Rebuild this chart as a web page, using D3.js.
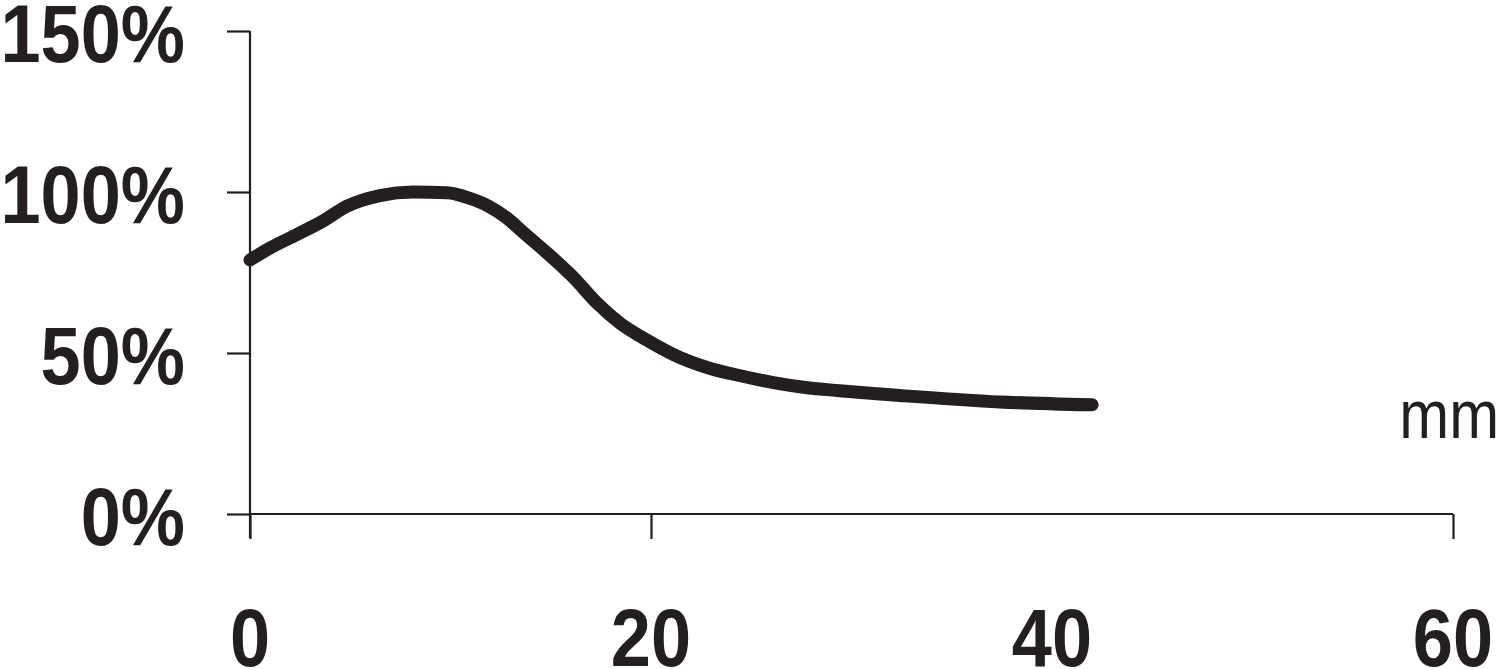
<!DOCTYPE html>
<html>
<head>
<meta charset="utf-8">
<script src="https://cdn.jsdelivr.net/npm/d3@7"></script>
<style>
  html, body { margin: 0; padding: 0; background: #fff; }
  svg { display: block; }
</style>
</head>
<body>
<svg id="chart" width="1500" height="669"></svg>
<script>
// ---- data ----
const distanceMm = [0, 1.0, 2.34, 3.64, 4.84, 6.48, 8.13, 9.83, 10.97, 11.9, 12.8, 13.6, 14.81, 16.11, 17.31, 18.45, 19.8, 21.1, 22.8, 24.4, 26.1, 27.8, 29.4, 31.1, 32.4, 37.4, 42.0];
const percentValues = [78.9, 82.6, 86.8, 91.0, 95.6, 98.9, 100.0, 99.8, 98.0, 95.6, 92.0, 87.6, 81.1, 73.6, 65.5, 59.3, 54.0, 49.6, 45.5, 43.0, 40.8, 39.2, 38.3, 37.4, 36.8, 34.8, 33.9];
const yTickValues = [0, 50, 100, 150];
const xTickValues = [0, 20, 40, 60];
const xUnitLabel = "mm";

const ink = "#231f20";
const svg = d3.select("#chart");

const x = d3.scaleLinear().domain([0, 60]).range([250, 1453]);
const y = d3.scaleLinear().domain([0, 150]).range([514, 31]);

const points = distanceMm.map((d, i) => ({ mm: d, v: percentValues[i] }));

// axis lines
svg.append("line")
  .attr("x1", x(0)).attr("x2", x(0))
  .attr("y1", y(150)).attr("y2", y(0) + 24)
  .attr("stroke", ink).attr("stroke-width", 2.2);
svg.append("line")
  .attr("x1", x(0)).attr("x2", x(60))
  .attr("y1", y(0)).attr("y2", y(0))
  .attr("stroke", ink).attr("stroke-width", 2.2);

// y axis ticks
const yAxis = d3.axisLeft(y).tickValues(yTickValues).tickSize(23).tickSizeOuter(0).tickFormat(() => "");
const gy = svg.append("g").attr("transform", `translate(${x(0)},0)`).call(yAxis);
gy.select(".domain").remove();
gy.selectAll(".tick line").attr("stroke", ink).attr("stroke-width", 2.2);

// x axis ticks
const xAxis = d3.axisBottom(x).tickValues(xTickValues).tickSize(25).tickSizeOuter(0).tickFormat(() => "");
const gx = svg.append("g").attr("transform", `translate(0,${y(0)})`).call(xAxis);
gx.select(".domain").remove();
gx.selectAll(".tick line").attr("stroke", ink).attr("stroke-width", 2.2)
  .attr("opacity", d => d === 40 ? 0 : 1);

// y tick labels
svg.append("g").selectAll("text")
  .data(yTickValues)
  .join("text")
  .attr("transform", d => `translate(185,${y(d) + 31}) scale(0.88,1)`)
  .attr("text-anchor", "end")
  .attr("font-family", "'Liberation Sans', Arial, sans-serif")
  .attr("font-weight", "bold")
  .attr("font-size", 82)
  .attr("fill", ink)
  .text(d => d + "%");

// x tick labels
svg.append("g").selectAll("text")
  .data(xTickValues)
  .join("text")
  .attr("transform", d => `translate(${x(d)},666) scale(0.88,1)`)
  .attr("text-anchor", "middle")
  .attr("font-family", "'Liberation Sans', Arial, sans-serif")
  .attr("font-weight", "bold")
  .attr("font-size", 82)
  .attr("fill", ink)
  .text(d => d);

// unit label
svg.append("text")
  .attr("transform", "translate(1499,438) scale(0.88,1)")
  .attr("text-anchor", "end")
  .attr("font-family", "'Liberation Sans', Arial, sans-serif")
  .attr("font-size", 68)
  .attr("fill", ink)
  .text(xUnitLabel);

// curve
const line = d3.line()
  .x(d => x(d.mm))
  .y(d => y(d.v))
  .curve(d3.curveMonotoneX);

svg.append("path")
  .datum(points)
  .attr("d", line)
  .attr("fill", "none")
  .attr("stroke", ink)
  .attr("stroke-width", 13)
  .attr("stroke-linecap", "round")
  .attr("stroke-linejoin", "round");
</script>
</body>
</html>
